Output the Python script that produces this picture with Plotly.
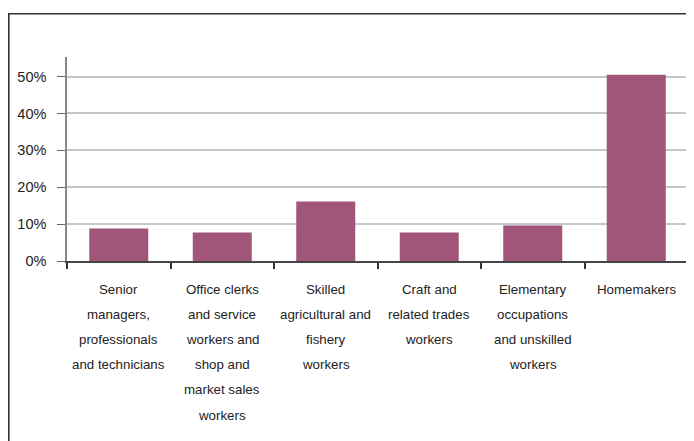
import plotly.graph_objects as go

categories = ["Senior managers", "Office clerks", "Skilled agricultural", "Craft", "Elementary", "Homemakers"]
label_lines = [
    ["Senior", "managers,", "professionals", "and technicians"],
    ["Office clerks", "and service", "workers and", "shop and", "market sales", "workers"],
    ["Skilled", "agricultural and", "fishery", "workers"],
    ["Craft and", "related trades", "workers"],
    ["Elementary", "occupations", "and unskilled", "workers"],
    ["Homemakers"],
]
values = [8.8, 7.7, 16.1, 7.7, 9.6, 50.5]
y_tickvals = [0, 10, 20, 30, 40, 50]
y_ticktext = ["0%", "10%", "20%", "30%", "40%", "50%"]

FONT = "Liberation Sans, Arial, Helvetica, sans-serif"

# page body has an 8px margin; compensate so the picture lands where the reference is
OFF = 8
W, H = 694 - OFF, 441 - OFF
L, R, T, B = 67 - OFF, 6, 57 - OFF, 180
pw, ph = W - L - R, H - T - B

fig = go.Figure(go.Bar(x=categories, y=values, marker_color="#A05579", marker_line_width=0))

annotations = []
for cat, lines in zip(categories, label_lines):
    for i, line in enumerate(lines):
        annotations.append(dict(
            x=cat, xref="x", y=0, yref="paper", text=line, showarrow=False,
            yanchor="middle", xanchor="center", yshift=-28 - i * 25.2,
            font=dict(family=FONT, size=13.3, color="#222"),
        ))

def px(x):
    return (x - OFF - L) / pw
def py(y):
    return (H - B - (y - OFF)) / ph

shapes = [
    dict(type="line", xref="paper", yref="paper", x0=px(8.8), x1=px(8.8), y0=py(13.5), y1=py(460),
         line=dict(color="#333", width=1.6)),
    dict(type="line", xref="paper", yref="paper", x0=px(8), x1=px(720), y0=py(13.8), y1=py(13.8),
         line=dict(color="#333", width=1.6)),
]

fig.update_layout(
    width=W, height=H,
    margin=dict(l=L, r=R, t=T, b=B, pad=0),
    plot_bgcolor="white", paper_bgcolor="white",
    bargap=0.43, showlegend=False,
    font=dict(family=FONT, size=14.5, color="#222"),
    annotations=annotations, shapes=shapes,
    xaxis=dict(showticklabels=False, ticks="outside", tickson="boundaries", ticklen=6,
               tickcolor="#333", tickwidth=1.5, showline=True, linecolor="#444", linewidth=1.5,
               showgrid=False, zeroline=False),
    yaxis=dict(range=[0, 55.3], tickvals=y_tickvals, ticktext=y_ticktext, ticks="outside",
               ticklen=8, tickcolor="#666", tickwidth=1, showline=True, linecolor="#888", linewidth=1.5,
               showgrid=True, gridcolor="#C3C7CB", gridwidth=1.5, zeroline=False,
               ticklabelstandoff=8),
)

fig.write_html("out.html")
